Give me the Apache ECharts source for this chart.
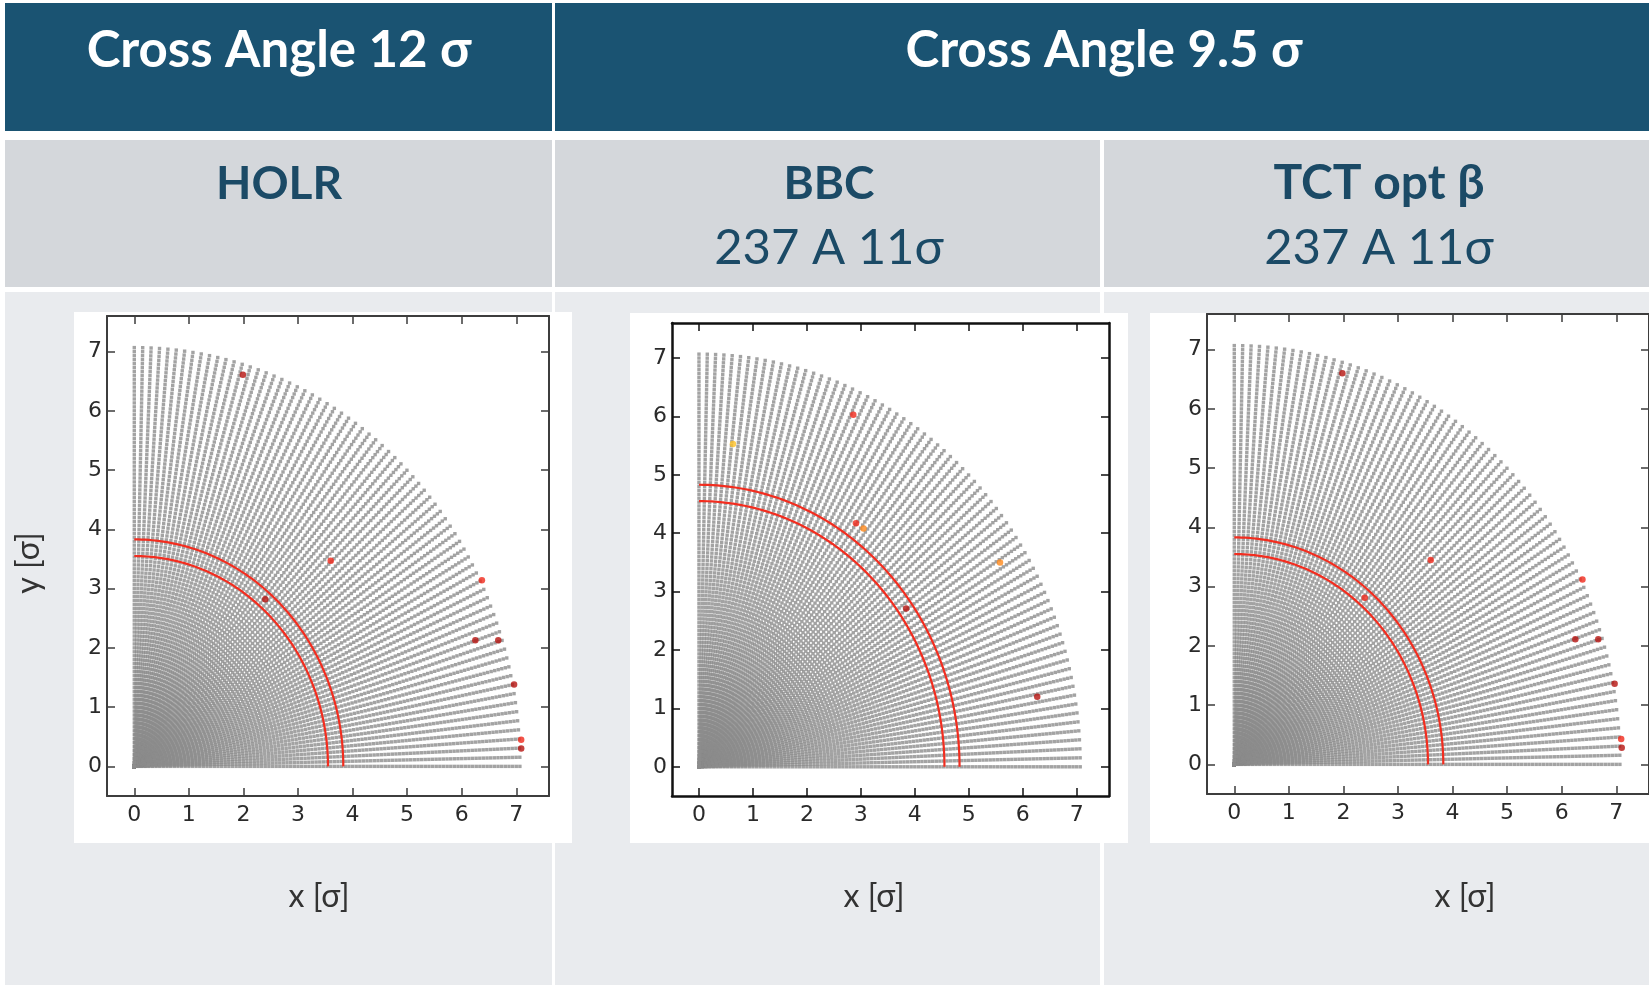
<!DOCTYPE html>
<html>
<head>
<meta charset="utf-8">
<script src="https://cdn.jsdelivr.net/npm/echarts@6/dist/echarts.min.js"></script>
<style>
  html, body { margin: 0; padding: 0; background: #ffffff; }
  #chart { width: 1649px; height: 985px; }
</style>
</head>
<body>
<div id="chart"></div>
<script>
// Tracking scan settings: particles on a polar grid (amplitude in σ, angle in degrees)
const amplitudeStep = 2 / 30;
const amplitudeMax = 7.1;
const angleStep = 1.25;
const angleMax = 90;

// Axis ticks shared by the three plots
const tickValues = [0, 1, 2, 3, 4, 5, 6, 7];
const axisMin = -0.5;
const axisMax = 7.6;

// Column headings
const groupTitles = ['Cross Angle 12 σ', 'Cross Angle 9.5 σ'];
const panelTitles = ['HOLR', 'BBC', 'TCT opt β'];
const panelSubtitles = ['', '237 A 11σ', '237 A 11σ'];

// Radii of the two red reference circles per configuration [σ]
const holrRings = [3.55, 3.83];
const bbcRings = [4.55, 4.83];
const tctRings = [3.55, 3.83];

// Lost particles: [x σ, y σ, loss class]
const holrLosses = [
  [1.99, 6.61, 0], [3.60, 3.47, 1], [2.40, 2.82, 0], [6.37, 3.14, 1],
  [6.25, 2.13, 0], [6.67, 2.13, 0], [6.96, 1.38, 0], [7.09, 0.45, 1], [7.09, 0.30, 0]
];
const bbcLosses = [
  [0.63, 5.53, 3], [2.86, 6.03, 1], [2.91, 4.17, 1], [3.05, 4.08, 2],
  [5.58, 3.50, 2], [3.84, 2.71, 0], [6.27, 1.20, 0]
];
const tctLosses = [
  [1.98, 6.60, 0], [3.60, 3.45, 1], [2.39, 2.81, 1], [6.38, 3.12, 1],
  [6.25, 2.11, 0], [6.67, 2.11, 0], [6.97, 1.36, 0], [7.09, 0.43, 1], [7.10, 0.28, 0]
];

// Colour per loss class
const lossPalette = ['#b5130f', '#f0281a', '#ff8a1c', '#ffc227'];

// ---------------------------------------------------------------------------

function particleGrid() {
  const pts = [];
  const nA = Math.round(angleMax / angleStep);
  const nR = Math.floor(amplitudeMax / amplitudeStep + 1e-9);
  for (let i = 0; i <= nA; i++) {
    const t = i * angleStep * Math.PI / 180;
    for (let j = 0; j <= nR; j++) {
      const r = j * amplitudeStep;
      pts.push([r * Math.cos(t), r * Math.sin(t)]);
    }
  }
  return pts;
}

function ringPoints(r) {
  const pts = [];
  for (let d = 90; d >= 0; d -= 1) {
    const t = d * Math.PI / 180;
    pts.push([r * Math.cos(t), r * Math.sin(t)]);
  }
  return pts;
}

const grid = particleGrid();

const plots = [
  { rings: holrRings, losses: holrLosses, frame: '#3d3d3d', frameWidth: 2,
    box: { left: 107, top: 316, width: 442, height: 480 } },
  { rings: bbcRings, losses: bbcLosses, frame: '#111111', frameWidth: 2.5,
    box: { left: 672, top: 323, width: 437, height: 473 } },
  { rings: tctRings, losses: tctLosses, frame: '#3d3d3d', frameWidth: 2,
    box: { left: 1207, top: 314, width: 444, height: 480 } }
];

const tickFont = { fontFamily: 'DejaVu Sans', fontSize: 22, color: '#2a2a2a' };

const grids = [], xAxes = [], yAxes = [], series = [];

plots.forEach((p, i) => {
  grids.push(Object.assign({ containLabel: false }, p.box));
  const line = { show: true, onZero: false, lineStyle: { color: p.frame, width: p.frameWidth } };
  const tick = { show: true, inside: true, length: 8, customValues: tickValues,
                 lineStyle: { color: p.frame, width: 1.5 } };
  const base = { type: 'value', gridIndex: i, min: axisMin, max: axisMax,
                 splitLine: { show: false }, axisLine: line, axisTick: tick };
  xAxes.push(Object.assign({}, base, { position: 'bottom',
    axisLabel: Object.assign({ customValues: tickValues, margin: 8 }, tickFont) }));
  xAxes.push(Object.assign({}, base, { position: 'top', axisLabel: { show: false } }));
  yAxes.push(Object.assign({}, base, { position: 'left',
    axisLabel: Object.assign({ customValues: tickValues, margin: 5 }, tickFont) }));
  yAxes.push(Object.assign({}, base, { position: 'right', axisLabel: { show: false } }));

  const xi = i * 2, yi = i * 2;
  // tracked particles as small grey squares
  series.push({
    type: 'scatter', xAxisIndex: xi, yAxisIndex: yi, data: grid,
    symbol: 'rect', symbolSize: 3.4, large: true, largeThreshold: 1000,
    itemStyle: { color: '#8c8c8c' }, silent: true, z: 2
  });
  p.rings.forEach(r => {
    series.push({
      type: 'line', xAxisIndex: xi, yAxisIndex: yi, data: ringPoints(r),
      showSymbol: false, smooth: false, silent: true, z: 3,
      lineStyle: { color: '#f22d1f', width: 2.2 }
    });
  });
  series.push({
    type: 'scatter', xAxisIndex: xi, yAxisIndex: yi, data: p.losses,
    symbol: 'circle', symbolSize: 6.5, silent: true, z: 4,
    itemStyle: { color: params => lossPalette[params.data[2]] }
  });
});

// Slide table: cells, headings and axis captions
const headBlue = '#1a5372';
const rowGrey = '#d4d7db';
const bodyGrey = '#e9ebee';
const titleInk = '#1b4a66';
const textFont = 'Lato, "Open Sans", sans-serif';

const graphics = [
  { type: 'rect', shape: { x: 5, y: 3, width: 547, height: 128 }, style: { fill: headBlue }, z: -5 },
  { type: 'rect', shape: { x: 555, y: 3, width: 1094, height: 128 }, style: { fill: headBlue }, z: -5 },
  { type: 'rect', shape: { x: 5, y: 140, width: 547, height: 147 }, style: { fill: rowGrey }, z: -5 },
  { type: 'rect', shape: { x: 555, y: 140, width: 545, height: 147 }, style: { fill: rowGrey }, z: -5 },
  { type: 'rect', shape: { x: 1104, y: 140, width: 545, height: 147 }, style: { fill: rowGrey }, z: -5 },
  { type: 'rect', shape: { x: 5, y: 292, width: 547, height: 693 }, style: { fill: bodyGrey }, z: -5 },
  { type: 'rect', shape: { x: 555, y: 292, width: 545, height: 693 }, style: { fill: bodyGrey }, z: -5 },
  { type: 'rect', shape: { x: 1104, y: 292, width: 545, height: 693 }, style: { fill: bodyGrey }, z: -5 },
  { type: 'rect', shape: { x: 74, y: 312, width: 498, height: 531 }, style: { fill: '#ffffff' }, z: -4 },
  { type: 'rect', shape: { x: 630, y: 313, width: 498, height: 530 }, style: { fill: '#ffffff' }, z: -4 },
  { type: 'rect', shape: { x: 1150, y: 313, width: 499, height: 530 }, style: { fill: '#ffffff' }, z: -4 }
];

function label(text, x, y, opts) {
  return {
    type: 'text', x: x, y: y, rotation: opts.rotation || 0, z: 50,
    style: {
      text: text, align: 'center', verticalAlign: 'middle',
      fill: opts.fill, fontFamily: textFont,
      fontSize: opts.size, fontWeight: opts.weight || 'normal'
    }
  };
}

graphics.push(label(groupTitles[0], 279, 51, { fill: '#ffffff', size: 51, weight: 'bold' }));
graphics.push(label(groupTitles[1], 1104, 51, { fill: '#ffffff', size: 51, weight: 'bold' }));
const titleX = [279, 829, 1379];
panelTitles.forEach((t, i) => {
  graphics.push(label(t, titleX[i], 184, { fill: titleInk, size: i === 2 ? 48 : 46, weight: 'bold' }));
  if (panelSubtitles[i]) {
    graphics.push(label(panelSubtitles[i], titleX[i], 248, { fill: titleInk, size: 49 }));
  }
});
graphics.push(label('y [σ]', 29, 563, { fill: '#333333', size: 32, rotation: Math.PI / 2 }));
[319, 874, 1465].forEach(x => {
  graphics.push(label('x [σ]', x, 897, { fill: '#333333', size: 32 }));
});

const chart = echarts.init(document.getElementById('chart'), null, { renderer: 'canvas' });
chart.setOption({
  animation: false,
  backgroundColor: '#ffffff',
  grid: grids,
  xAxis: xAxes,
  yAxis: yAxes,
  series: series,
  graphic: { elements: graphics }
});
</script>
</body>
</html>
